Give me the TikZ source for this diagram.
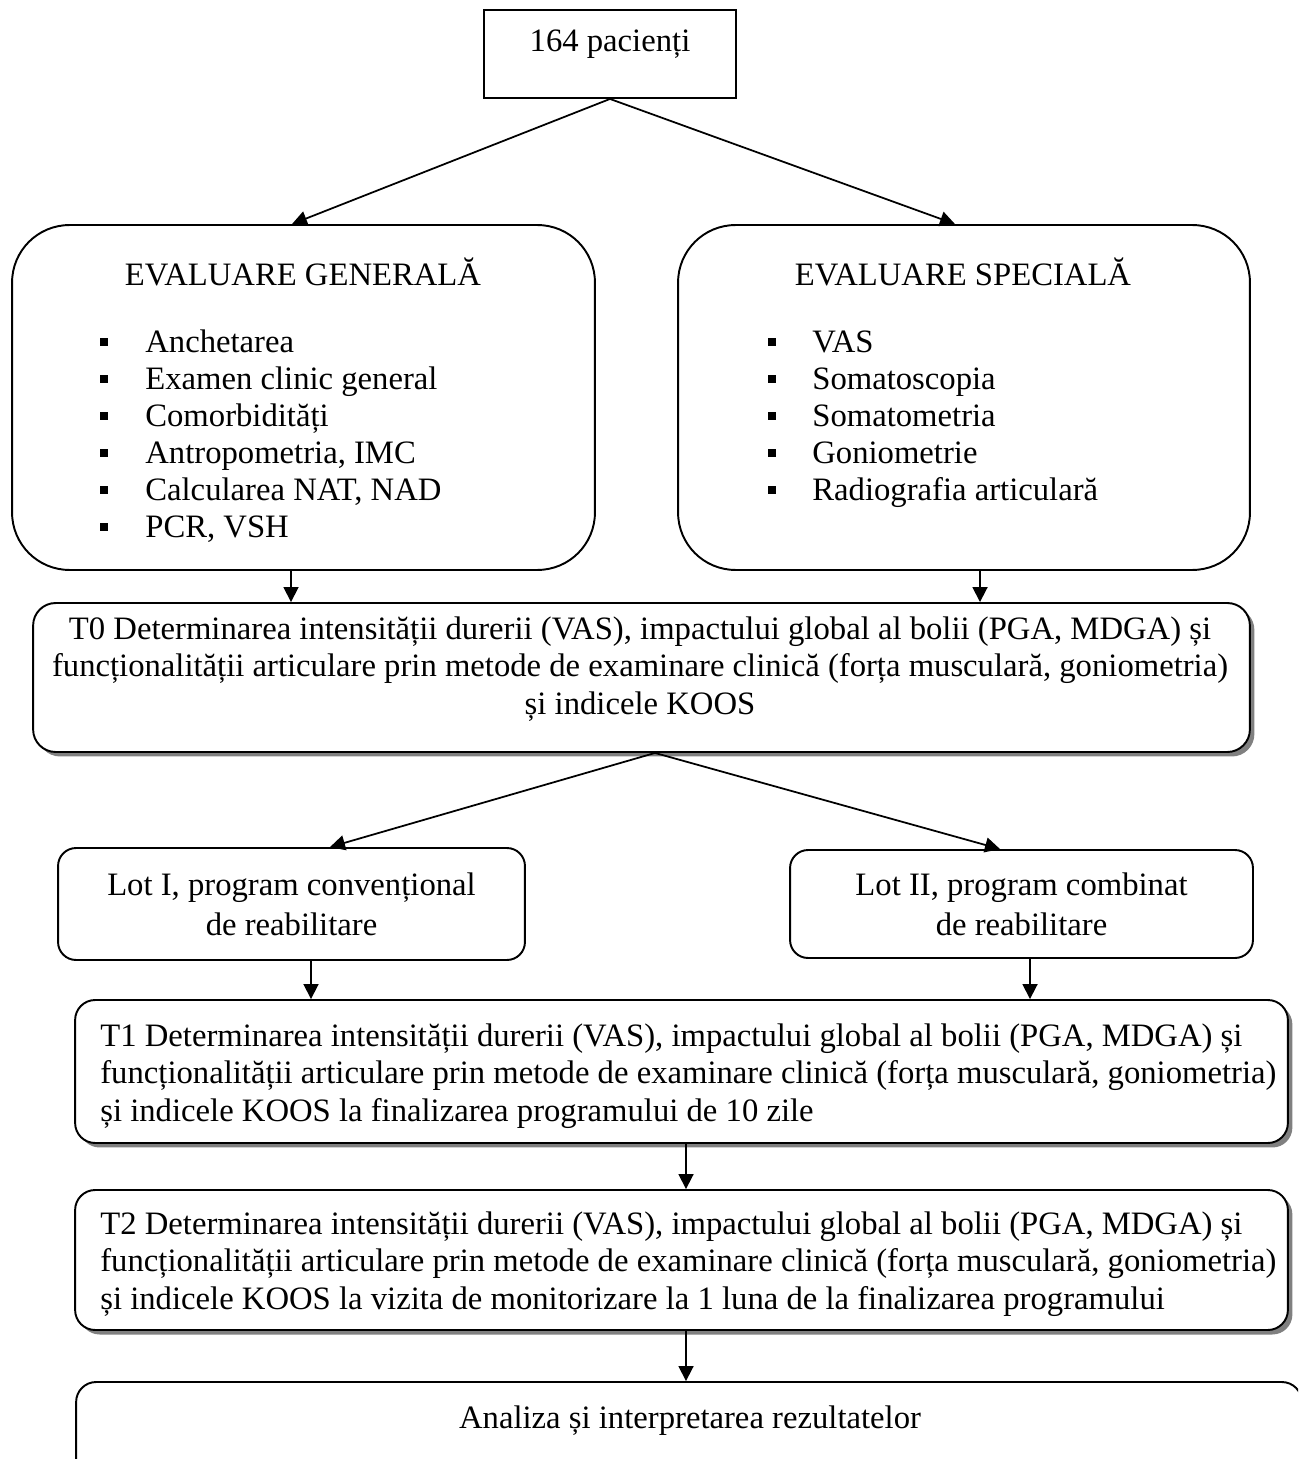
\documentclass[tikz,border=0pt]{standalone}
\usepackage{fontspec}
\setmainfont{Liberation Serif}
\usetikzlibrary{arrows.meta,calc,shadows}

\tikzset{
	box/.style={draw, line width=1.1pt, rounded corners=0.4cm},
	shbox/.style={box, fill=white, drop shadow={shadow xshift=0.09cm, shadow yshift=-0.09cm, fill=black!50, opacity=1}},
	txt/.style={inner sep=0pt, font=\fontsize{18.6}{21.5}\selectfont},
	line/.style={txt, text height=0.43cm, text depth=0pt},
	bul/.style={fill=black, inner sep=0pt, minimum size=0.16cm},
	arr/.style={line width=1pt, -{Triangle[length=0.3cm,width=0.3cm]}},
}

\begin{document}
\begin{tikzpicture}[x=0.02cm, y=-0.02cm]
			%%%%% START %%%%%
			\useasboundingbox (0,0) rectangle (1298,1459);
			\clip (0,0) rectangle (1298,1459);
			
			\node[draw, line width=1.1pt, minimum width=5.04cm, minimum height=1.76cm] (top) at (610,54) {};
			\node[line] (toptxt) at (610,41) {164 pacienți};
			
			\node[box, rounded corners=1.15cm, minimum width=11.66cm, minimum height=6.9cm] (gen) at (303.5,397.5) {};
			\node[line] (gentitle) at (303,275) {EVALUARE GENERALĂ};
			\foreach \t [count=\i from 0] in {Anchetarea, Examen clinic general, Comorbidități, {Antropometria, IMC}, {Calcularea NAT, NAD}, {PCR, VSH}}{
				\node[bul] (gb\i) at (104,342+37*\i) {};
				\node[line, anchor=west] (gi\i) at (145,342+37*\i) {\t};
			}
			
			\node[box, rounded corners=1.15cm, minimum width=11.44cm, minimum height=6.9cm] (spec) at (964,397.5) {};
			\node[line] (spectitle) at (963,275) {EVALUARE SPECIALĂ};
			\foreach \t [count=\i from 0] in {VAS, Somatoscopia, Somatometria, Goniometrie, Radiografia articulară}{
				\node[bul] (sb\i) at (772,342+37*\i) {};
				\node[line, anchor=west] (si\i) at (812,342+37*\i) {\t};
			}
			
			\node[shbox, rounded corners=0.45cm, minimum width=24.34cm, minimum height=2.98cm] (T0) at (641.5,677.5) {};
			\node[txt, align=center] (T0txt) at (640,669) {T0 Determinarea intensității durerii (VAS), impactului global al bolii (PGA, MDGA) și\\ funcționalității articulare prin metode de examinare clinică (forța musculară, goniometria)\\ și indicele KOOS};
			
			\node[box, txt, align=center, rounded corners=0.36cm, minimum width=9.34cm, minimum height=2.24cm] (lot1) at (291.5,904) {Lot I, program convențional\\[1.2pt] de reabilitare};
			\node[box, txt, align=center, rounded corners=0.36cm, minimum width=9.26cm, minimum height=2.16cm] (lot2) at (1021.5,904) {Lot II, program combinat\\[1.2pt] de reabilitare};
			
			\node[shbox, minimum width=24.26cm, minimum height=2.86cm] (T1) at (681.5,1071.5) {};
			\node[txt, align=left, anchor=west] (T1txt) at (100,1076) {T1 Determinarea intensității durerii (VAS), impactului global al bolii (PGA, MDGA) și\\ funcționalității articulare prin metode de examinare clinică (forța musculară, goniometria)\\ și indicele KOOS la finalizarea programului de 10 zile};
			
			\node[shbox, minimum width=24.26cm, minimum height=2.8cm] (T2) at (681.5,1260) {};
			\node[txt, align=left, anchor=west] (T2txt) at (100,1264) {T2 Determinarea intensității durerii (VAS), impactului global al bolii (PGA, MDGA) și\\ funcționalității articulare prin metode de examinare clinică (forța musculară, goniometria)\\ și indicele KOOS la vizita de monitorizare la 1 luna de la finalizarea programului};
			
			\node[box, minimum width=24.52cm, minimum height=2.2cm] (res) at (689,1437) {};
			\node[line] (restxt) at (690,1418) {Analiza și interpretarea rezultatelor};
			
			% arrow columns
			\coordinate (c1) at (292,0);
			\coordinate (c2) at (955,0);
			\coordinate (c3) at (291,0);
			\coordinate (c4) at (980,0);
			\coordinate (c5) at (655,0);
			\coordinate (c6) at (330,0);
			\coordinate (c7) at (1000,0);
			\coordinate (c8) at (311,0);
			\coordinate (c9) at (1030,0);
			\coordinate (c10) at (686,0);
			
			\draw[arr] (top.south) -- (gen.north -| c1);
			\draw[arr] (top.south) -- (spec.north -| c2);
			\draw[arr] (gen.south -| c3) -- (T0.north -| c3);
			\draw[arr] (spec.south -| c4) -- (T0.north -| c4);
			\draw[arr] (T0.south -| c5) -- (lot1.north -| c6);
			\draw[arr] (T0.south -| c5) -- (lot2.north -| c7);
			\draw[arr] (lot1.south -| c8) -- (T1.north -| c8);
			\draw[arr] (lot2.south -| c9) -- (T1.north -| c9);
			\draw[arr] (T1.south -| c10) -- (T2.north -| c10);
			\draw[arr] (T2.south -| c10) -- (res.north -| c10);
			%%%%% END %%%%%
\end{tikzpicture}
\end{document}
